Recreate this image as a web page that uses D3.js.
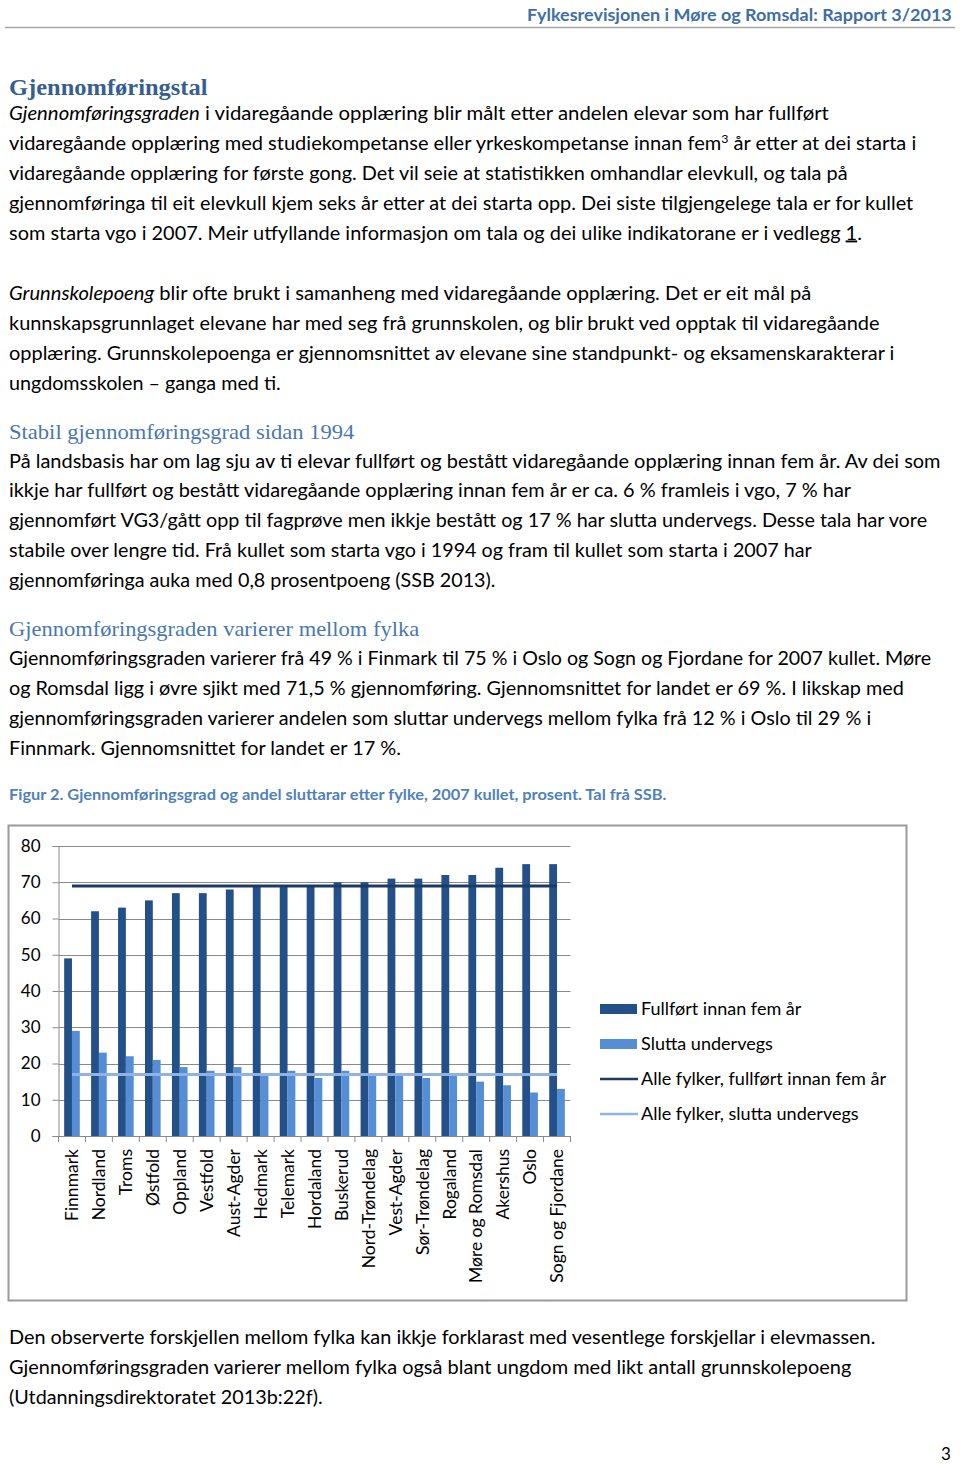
<!DOCTYPE html>
<html><head><meta charset="utf-8">
<script src="https://cdn.jsdelivr.net/npm/d3@7/dist/d3.min.js"></script>
<style>
html,body{margin:0;padding:0;background:#fff;}
svg{display:block;}
</style></head>
<body>
<svg id="page" width="960" height="1465"></svg>
<script>
// ---------- data ----------
const categories = ["Finnmark","Nordland","Troms","Østfold","Oppland","Vestfold","Aust-Agder","Hedmark","Telemark","Hordaland","Buskerud","Nord-Trøndelag","Vest-Agder","Sør-Trøndelag","Rogaland","Møre og Romsdal","Akershus","Oslo","Sogn og Fjordane"];
const fullfort = [49,62,63,65,67,67,68,69,69,69,70,70,71,71,72,72,74,75,75];
const slutta   = [29,23,22,21,19,18,19,17,18,16,18,17,17,16,17,15,14,12,13];
const alleFullfort = 69;
const alleSlutta = 17;
const yTicks = [0,10,20,30,40,50,60,70,80];
const seriesNames = ["Fullført innan fem år","Slutta undervegs","Alle fylker, fullført innan fem år","Alle fylker, slutta undervegs"];

const headerText = "Fylkesrevisjonen i Møre og Romsdal: Rapport 3/2013";
const heading1 = "Gjennomføringstal";
const para1 = [
  [{t:"Gjennomføringsgraden",i:1},{t:" i vidaregåande opplæring blir målt etter andelen elevar som har fullført"}],
  [{t:"vidaregåande opplæring med studiekompetanse eller yrkeskompetanse innan fem"},{t:"3",sup:1},{t:" år etter at dei starta i"}],
  [{t:"vidaregåande opplæring for første gong. Det vil seie at statistikken omhandlar elevkull, og tala på"}],
  [{t:"gjennomføringa til eit elevkull kjem seks år etter at dei starta opp. Dei siste tilgjengelege tala er for kullet"}],
  [{t:"som starta vgo i 2007. Meir utfyllande informasjon om tala og dei ulike indikatorane er i vedlegg "},{t:"1",u:1},{t:"."}]
];
const para2 = [
  [{t:"Grunnskolepoeng",i:1},{t:" blir ofte brukt i samanheng med vidaregåande opplæring. Det er eit mål på"}],
  [{t:"kunnskapsgrunnlaget elevane har med seg frå grunnskolen, og blir brukt ved opptak til vidaregåande"}],
  [{t:"opplæring. Grunnskolepoenga er gjennomsnittet av elevane sine standpunkt- og eksamenskarakterar i"}],
  [{t:"ungdomsskolen – ganga med ti."}]
];
const heading2 = "Stabil gjennomføringsgrad sidan 1994";
const para3 = [
  [{t:"På landsbasis har om lag sju av ti elevar fullført og bestått vidaregåande opplæring innan fem år. Av dei som"}],
  [{t:"ikkje har fullført og bestått vidaregåande opplæring innan fem år er ca. 6 % framleis i vgo, 7 % har"}],
  [{t:"gjennomført VG3/gått opp til fagprøve men ikkje bestått og 17 % har slutta undervegs. Desse tala har vore"}],
  [{t:"stabile over lengre tid. Frå kullet som starta vgo i 1994 og fram til kullet som starta i 2007 har"}],
  [{t:"gjennomføringa auka med 0,8 prosentpoeng (SSB 2013)."}]
];
const heading3 = "Gjennomføringsgraden varierer mellom fylka";
const para4 = [
  [{t:"Gjennomføringsgraden varierer frå 49 % i Finmark til 75 % i Oslo og Sogn og Fjordane for 2007 kullet. Møre"}],
  [{t:"og Romsdal ligg i øvre sjikt med 71,5 % gjennomføring. Gjennomsnittet for landet er 69 %. I likskap med"}],
  [{t:"gjennomføringsgraden varierer andelen som sluttar undervegs mellom fylka frå 12 % i Oslo til 29 % i"}],
  [{t:"Finnmark. Gjennomsnittet for landet er 17 %."}]
];
const caption = "Figur 2. Gjennomføringsgrad og andel sluttarar etter fylke, 2007 kullet, prosent. Tal frå SSB.";
const para5 = [
  [{t:"Den observerte forskjellen mellom fylka kan ikkje forklarast med vesentlege forskjellar i elevmassen."}],
  [{t:"Gjennomføringsgraden varierer mellom fylka også blant ungdom med likt antall grunnskolepoeng"}],
  [{t:"(Utdanningsdirektoratet 2013b:22f)."}]
];

(function draw() {
// ---------- helpers ----------
const svg = d3.select("#page");
const BODY_FONT = "Lato, 'Open Sans', sans-serif";
const SERIF_FONT = "'Liberation Serif', 'DejaVu Serif', serif";

function fitText(parent, segs, x, y, width, opts) {
  opts = opts || {};
  const g = parent.append("g");
  const t = g.append("text").attr("x",0).attr("y",0)
    .style("font-family", opts.family || BODY_FONT)
    .style("font-size", (opts.size||19)+"px")
    .style("font-weight", opts.weight || "normal")
    .attr("fill", opts.color || "#000");
  segs.forEach(s => {
    const ts = t.append("tspan").text(s.t);
    if (s.i) ts.style("font-style","italic");
    if (s.u) ts.style("text-decoration","underline");
    if (s.sup) ts.attr("baseline-shift","super").style("font-size", ((opts.size||19)*0.62)+"px");
  });
  const w = t.node().getBBox().width;
  const s = width / w;
  const x0 = opts.anchorRight ? x - width : x;
  g.attr("transform", `translate(${x0},${y}) scale(${s},1)`);
  return g;
}
function paragraph(lines, centers, widths) {
  lines.forEach((segs, k) => fitText(svg, segs, 9, centers[k] + 6.5, widths[k] - 9));
}

// ---------- page header ----------
fitText(svg, [{t:headerText}], 952, 21, 425, {size:17, weight:"bold", color:"#3f6ea6", anchorRight:true});
svg.append("line").attr("x1",5).attr("x2",955).attr("y1",27.5).attr("y2",27.5)
  .attr("stroke","#a6a6a6").attr("stroke-width",1.5);

// ---------- text ----------
fitText(svg, [{t:heading1}], 9, 95, 199, {family:SERIF_FONT, size:24, weight:"bold", color:"#365f91"});
paragraph(para1, [113,143,173,203,233], [830,917,848,914,862]);
paragraph(para2, [293,323,353,383], [812,880,895,281]);
fitText(svg, [{t:heading2}], 9, 439, 346, {family:SERIF_FONT, size:21, color:"#4a78b0"});
paragraph(para3, [461,490,520,550,580], [941,852,928,812,496]);
fitText(svg, [{t:heading3}], 9, 636, 411, {family:SERIF_FONT, size:21, color:"#4a78b0"});
paragraph(para4, [658,688,718,748], [932,904,872,401]);
fitText(svg, [{t:caption}], 9, 800, 658, {size:15, weight:"bold", color:"#4f81bd"});
paragraph(para5, [1337,1367,1397], [876,852,323]);
svg.append("text").attr("x",946).attr("y",1460).attr("text-anchor","middle")
  .style("font-family",BODY_FONT).style("font-size","17px").text("3");

// ---------- chart ----------
const chart = svg.append("g");
chart.append("rect").attr("x",8.5).attr("y",825.5).attr("width",898).attr("height",475)
  .attr("fill","#fff").attr("stroke","#9a9a9a").attr("stroke-width",2);

const pLeft = 58.5, pRight = 570.5, pTop = 846, pBottom = 1136;
const x = d3.scaleBand().domain(categories).range([pLeft, pRight]).paddingInner(0).paddingOuter(0);
const y = d3.scaleLinear().domain([0,80]).range([pBottom, pTop]);
const gridColor = "#8a8a8a";

// gridlines
chart.append("g").selectAll("line").data(yTicks).join("line")
  .attr("x1", pLeft).attr("x2", pRight)
  .attr("y1", d => Math.round(y(d))+0.5).attr("y2", d => Math.round(y(d))+0.5)
  .attr("stroke", gridColor).attr("stroke-width",1);

// y axis
const yAxis = chart.append("g").attr("transform",`translate(${pLeft},0)`)
  .call(d3.axisLeft(y).tickValues(yTicks).tickSize(6).tickPadding(12));
yAxis.select(".domain").attr("stroke",gridColor);
yAxis.selectAll(".tick line").attr("stroke",gridColor);
yAxis.selectAll("text").style("font-family",BODY_FONT).style("font-size","17px").attr("fill","#000");

// bars
const bw = x.bandwidth()*0.29;
chart.append("g").selectAll("rect").data(categories).join("rect")
  .attr("x", c => x(c) + x.bandwidth()/2 - bw)
  .attr("width", bw)
  .attr("y", (c,i) => y(fullfort[i]))
  .attr("height", (c,i) => y(0) - y(fullfort[i]))
  .attr("fill","#24508a");
chart.append("g").selectAll("rect").data(categories).join("rect")
  .attr("x", c => x(c) + x.bandwidth()/2)
  .attr("width", bw)
  .attr("y", (c,i) => y(slutta[i]))
  .attr("height", (c,i) => y(0) - y(slutta[i]))
  .attr("fill","#558ed5");

// x axis
const xAxis = chart.append("g").attr("transform",`translate(0,${pBottom})`)
  .call(d3.axisBottom(x).tickSize(0).tickPadding(14));
xAxis.select(".domain").attr("stroke",gridColor);
xAxis.selectAll("text")
  .style("font-family",BODY_FONT).style("font-size","17.5px").attr("fill","#000")
  .attr("text-anchor","end").attr("transform","rotate(-90)")
  .attr("x",-13).attr("y",0).attr("dy","0.36em");
// boundary tick marks
const bounds = categories.map(c => x(c)).concat([pRight]);
chart.append("g").selectAll("line").data(bounds).join("line")
  .attr("x1", d => d).attr("x2", d => d).attr("y1", pBottom).attr("y2", pBottom+6)
  .attr("stroke", gridColor);

// average lines (from first to last category centre)
const line = d3.line().x(d => x(d.c) + x.bandwidth()/2).y(d => y(d.v));
chart.append("path").datum(categories.map(c => ({c, v: alleFullfort})))
  .attr("d", line).attr("fill","none").attr("stroke","#1c3a63").attr("stroke-width",3);
chart.append("path").datum(categories.map(c => ({c, v: alleSlutta})))
  .attr("d", line).attr("fill","none").attr("stroke","#8fb4e3").attr("stroke-width",3);

// legend
const legendY = [1009,1044,1079,1114];
const legendW = [161,132,246,218];
const lg = chart.append("g");
[{type:"rect",color:"#24508a"},{type:"rect",color:"#558ed5"},{type:"line",color:"#1c3a63"},{type:"line",color:"#8fb4e3"}]
.forEach((it,k) => {
  if (it.type === "rect") {
    lg.append("rect").attr("x",600).attr("y",legendY[k]-5).attr("width",37).attr("height",10).attr("fill",it.color);
  } else {
    lg.append("line").attr("x1",600).attr("x2",638).attr("y1",legendY[k]).attr("y2",legendY[k])
      .attr("stroke",it.color).attr("stroke-width",2.5);
  }
  fitText(lg, [{t:seriesNames[k]}], 641, legendY[k]+6, legendW[k], {size:17.5});
});
})();
</script>
</body></html>
